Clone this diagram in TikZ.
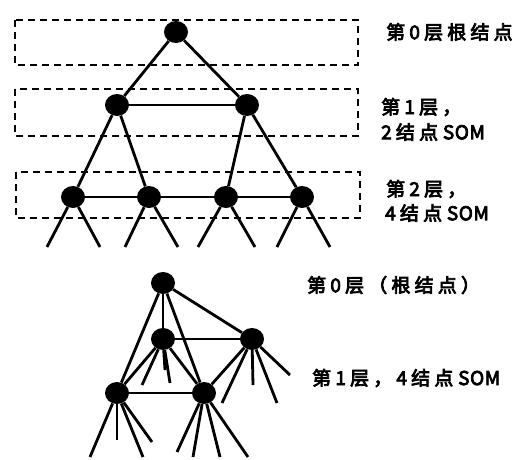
\documentclass[tikz,border=0pt]{standalone}
\usepackage{fontspec}
\newfontfamily\cjk{Noto Sans CJK SC}[LetterSpace=22,FakeBold=4]
\newfontfamily\cjklat{Noto Sans CJK SC}[LetterSpace=3,FakeBold=4]
\usetikzlibrary{shapes.geometric}
\begin{document}
\begin{tikzpicture}[x=1pt,y=-1pt,
  som/.style={ellipse,fill=black,minimum width=24pt,minimum height=22pt,inner sep=0pt},
  link/.style={line width=2.8pt},
  layerbox/.style={line width=2.2pt,dash pattern=on 7pt off 5pt},
  lbl/.style={anchor=west,inner sep=0pt,font=\cjk\fontsize{19}{22}\selectfont}]
\useasboundingbox (0,0) rectangle (520,459);
% ---- top: layered boxes
\draw[layerbox] (15,20) rectangle (358,65);
\draw[layerbox] (15,89) rectangle (358,136);
\draw[layerbox] (16,172) rectangle (360,218);
\node[som] (r0) at (176,32) {};
\node[som] (a1) at (117,105) {};
\node[som] (b1) at (247,105) {};
\node[som] (a2) at (73,197) {};
\node[som] (b2) at (149,197) {};
\node[som] (c2) at (226,197) {};
\node[som] (d2) at (302,197) {};
\draw[link] (r0) -- (a1);
\draw[link] (r0) -- (b1);
\draw[link] (a1) -- (b1);
\draw[link] (a1) -- (a2);
\draw[link] (a1) -- (b2);
\draw[link] (b1) -- (c2);
\draw[link] (b1) -- (d2);
\draw[link] (a2) -- (b2);
\draw[link] (b2) -- (c2);
\draw[link] (c2) -- (d2);
\foreach \n/\xa/\xb in {a2/47/100,b2/125/178,c2/198/255,d2/277/330}{
  \coordinate (\n l) at (\xa,247);
  \coordinate (\n r) at (\xb,247);
  \draw[link] (\n) -- (\n l);
  \draw[link] (\n) -- (\n r);
}
\node[lbl] (t0) at (386,32) {第0层根结点};
\node[lbl] (t1a) at (381,107) {第1层，};
\node[lbl] (t1b) at (381,132) {2结点{\cjklat\ SOM}};
\node[lbl] (t2a) at (386,189) {第2层，};
\node[lbl] (t2b) at (385,213) {4结点{\cjklat\ SOM}};
% ---- bottom: SOM tree
\node[som] (R) at (163,283) {};
\node[som] (A) at (163,339) {};
\node[som] (B) at (252,339) {};
\node[som] (C) at (117,393) {};
\node[som] (D) at (204,393) {};
\draw[link] (R) -- (A);
\draw[link] (R) -- (B);
\draw[link] (R) -- (C);
\draw[link] (R) -- (D);
\draw[link] (A) -- (B);
\draw[link] (C) -- (D);
\draw[link] (A) -- (C);
\draw[link] (A) -- (D);
\draw[link] (B) -- (D);
\foreach \x/\y [count=\i] in {165/370,170/383,142/385}{
  \coordinate (Al\i) at (\x,\y); \draw[link] (A) -- (Al\i);}
\foreach \x/\y [count=\i] in {222/403,253/385,277/403,290/375}{
  \coordinate (Bl\i) at (\x,\y); \draw[link] (B) -- (Bl\i);}
\foreach \x/\y [count=\i] in {90/457,117/440,143/457,152/442}{
  \coordinate (Cl\i) at (\x,\y); \draw[link] (C) -- (Cl\i);}
\foreach \x/\y [count=\i] in {177/452,193/457,220/457,248/457}{
  \coordinate (Dl\i) at (\x,\y); \draw[link] (D) -- (Dl\i);}
\node[lbl] (u0) at (307,285) {第0层（根结点）};
\node[lbl] (u1) at (312,378) {第1层，4结点{\cjklat\ SOM}};
\end{tikzpicture}
\end{document}
